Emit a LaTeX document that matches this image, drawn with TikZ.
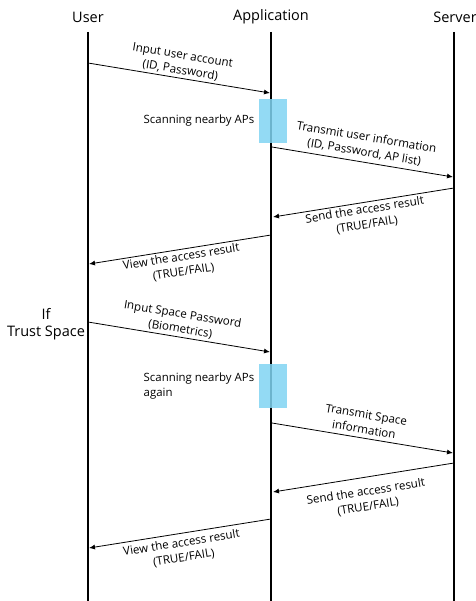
\documentclass[tikz,border=0pt]{standalone}
\usepackage{fontspec}
\setmainfont{Open Sans}
\usetikzlibrary{arrows.meta,positioning}

\definecolor{scanblue}{RGB}{128,212,242}

\begin{document}
\begin{tikzpicture}[x=1pt,y=-1pt,line width=.8pt,
  actor/.style={inner sep=1pt,font=\fontsize{14.5}{17}\selectfont},
  msg/.style={-{Latex[length=6pt,width=5pt]}},
  lbl/.style={sloped,align=center,inner sep=2pt,font=\fontsize{11.6}{15}\selectfont},
  scanbox/.style={fill=scanblue,fill opacity=.85,inner sep=0pt,minimum width=28pt,minimum height=44pt},
  note/.style={inner sep=0pt,font=\fontsize{11.4}{14.5}\selectfont}]
\useasboundingbox (0,0) rectangle (475,601);
% actors and their lifelines
\node[actor] (user) at (88,17) {User};
\node[actor] (app) at (271,17) {Application};
\node[actor] (srv) at (455,17) {Server};
\coordinate (userend) at (88,601);
\coordinate (append) at (271,601);
\coordinate (srvend) at (454,601);
\draw[line width=2pt] (88,32)--(userend) (271,32)--(append) (454,32)--(srvend);
\node[actor,align=center] (trust) at (46,324) {If\\Trust Space};
% login
\coordinate (u1) at (88,63);   \coordinate (a1) at (270,93);
\coordinate (a2) at (272,147); \coordinate (s2) at (453,177);
\coordinate (s3) at (454,188); \coordinate (a3) at (273,217);
\coordinate (a4) at (271,235); \coordinate (u4) at (89,264);
\draw[msg] (u1) -- node[lbl,above] {Input user account\\(ID, Password)} (a1);
\draw[msg] (a2) -- node[lbl,above=2pt] {Transmit user information\\(ID, Password, AP list)} (s2);
\draw[msg] (s3) -- node[lbl,below] {Send the access result\\(TRUE/FAIL)} (a3);
\draw[msg] (a4) -- node[lbl,below] {View the access result\\(TRUE/FAIL)} (u4);
\node[scanbox] (scan1) at (273,121) {};
\node[note,left=4pt of scan1] (scantxt1) {Scanning nearby APs};
% trust space
\coordinate (u5) at (88,322);  \coordinate (a5) at (270,352);
\coordinate (a6) at (272,423); \coordinate (s6) at (453,453);
\coordinate (s7) at (454,463); \coordinate (a7) at (273,492);
\coordinate (a8) at (271,519); \coordinate (u8) at (89,548);
\draw[msg] (u5) -- node[lbl,above] {Input Space Password\\(Biometrics)} (a5);
\draw[msg] (a6) -- node[lbl,above=2pt] {Transmit Space\\information} (s6);
\draw[msg] (s7) -- node[lbl,below=7pt] {Send the access result\\(TRUE/FAIL)} (a7);
\draw[msg] (a8) -- node[lbl,below=2pt] {View the access result\\(TRUE/FAIL)} (u8);
\node[scanbox] (scan2) at (273,386) {};
\node[note,align=left,left=4pt of scan2] (scantxt2) {Scanning nearby APs\\again};
\end{tikzpicture}
\end{document}
